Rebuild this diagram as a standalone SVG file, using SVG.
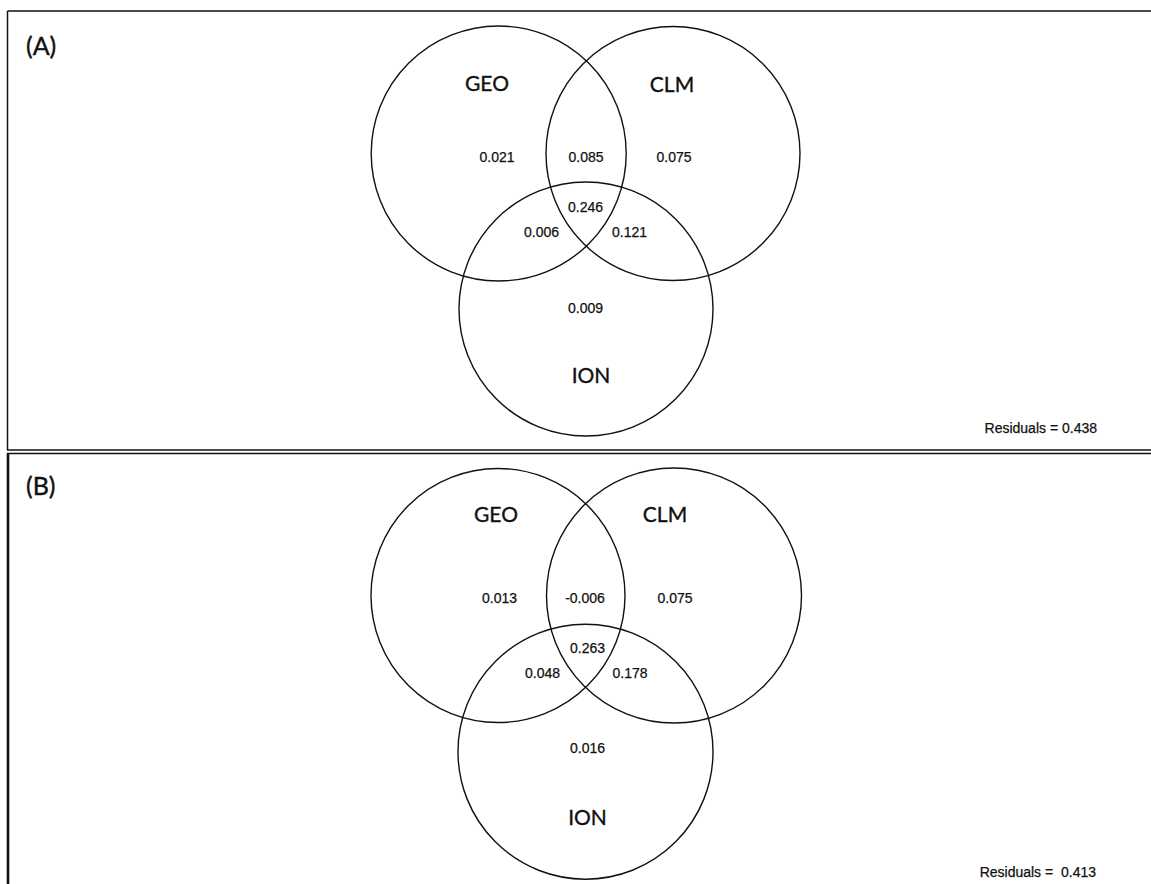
<svg xmlns="http://www.w3.org/2000/svg" width="1151" height="884" viewBox="0 0 1151 884">
<style>
.c{fill:none;stroke:#111;stroke-width:1.4}
.lab{font-family:Lato,"Noto Sans",sans-serif;font-size:21px;fill:#111;stroke:#111;stroke-width:0.35;text-anchor:middle}
.pan{font-family:Lato,"Noto Sans",sans-serif;font-size:25px;fill:#111;stroke:#111;stroke-width:0.4}
.num{font-family:"Liberation Sans",Arial,sans-serif;font-size:14px;fill:#111;stroke:#111;stroke-width:0.25;text-anchor:middle}
.res{font-family:"Liberation Sans",Arial,sans-serif;font-size:14px;fill:#111;stroke:#111;stroke-width:0.25;text-anchor:end}
.b{stroke:#111;fill:none}
</style>
<rect width="1151" height="884" fill="#fff"/>
<g id="frames">
<line class="b" x1="7.5" y1="11" x2="1151" y2="11" stroke-width="1.5"/>
<line class="b" x1="7.5" y1="11" x2="7.5" y2="450" stroke-width="1.5"/>
<line class="b" x1="7" y1="450" x2="1151" y2="450" stroke-width="1.4"/>
<line class="b" x1="7" y1="453.5" x2="1151" y2="453.5" stroke-width="1.4"/>
<line class="b" x1="8" y1="453" x2="8" y2="884" stroke-width="2.6"/>
</g>
<g id="panelA">
<text class="pan" x="26" y="55">(A)</text>
<g id="A-GEO"><circle class="c" cx="498.7" cy="153.5" r="127.5"/><text class="lab" x="487" y="91">GEO</text></g>
<g id="A-CLM"><circle class="c" cx="673" cy="153.5" r="127"/><text class="lab" x="672" y="92">CLM</text></g>
<g id="A-ION"><circle class="c" cx="586" cy="309" r="127"/><text class="lab" x="591" y="383">ION</text></g>
<text class="num" x="497" y="162">0.021</text>
<text class="num" x="586" y="162">0.085</text>
<text class="num" x="674" y="162">0.075</text>
<text class="num" x="585.5" y="212">0.246</text>
<text class="num" x="541.5" y="237">0.006</text>
<text class="num" x="629.5" y="237">0.121</text>
<text class="num" x="585.5" y="312.5">0.009</text>
<text class="res" x="1097" y="433">Residuals = 0.438</text>
</g>
<g id="panelB">
<text class="pan" x="26" y="495">(B)</text>
<g id="B-GEO"><circle class="c" cx="498" cy="595.5" r="127"/><text class="lab" x="496" y="522">GEO</text></g>
<g id="B-CLM"><circle class="c" cx="674" cy="595.5" r="127.5"/><text class="lab" x="665" y="522">CLM</text></g>
<g id="B-ION"><circle class="c" cx="585.5" cy="751.7" r="127.5"/><text class="lab" x="587.5" y="825">ION</text></g>
<text class="num" x="499.5" y="602.5">0.013</text>
<text class="num" x="585" y="602.5">-0.006</text>
<text class="num" x="675" y="602.5">0.075</text>
<text class="num" x="587.5" y="653">0.263</text>
<text class="num" x="542.5" y="678">0.048</text>
<text class="num" x="630" y="678">0.178</text>
<text class="num" x="587.5" y="753">0.016</text>
<text class="res" x="1096" y="877" xml:space="preserve">Residuals =  0.413</text>
</g>
</svg>
